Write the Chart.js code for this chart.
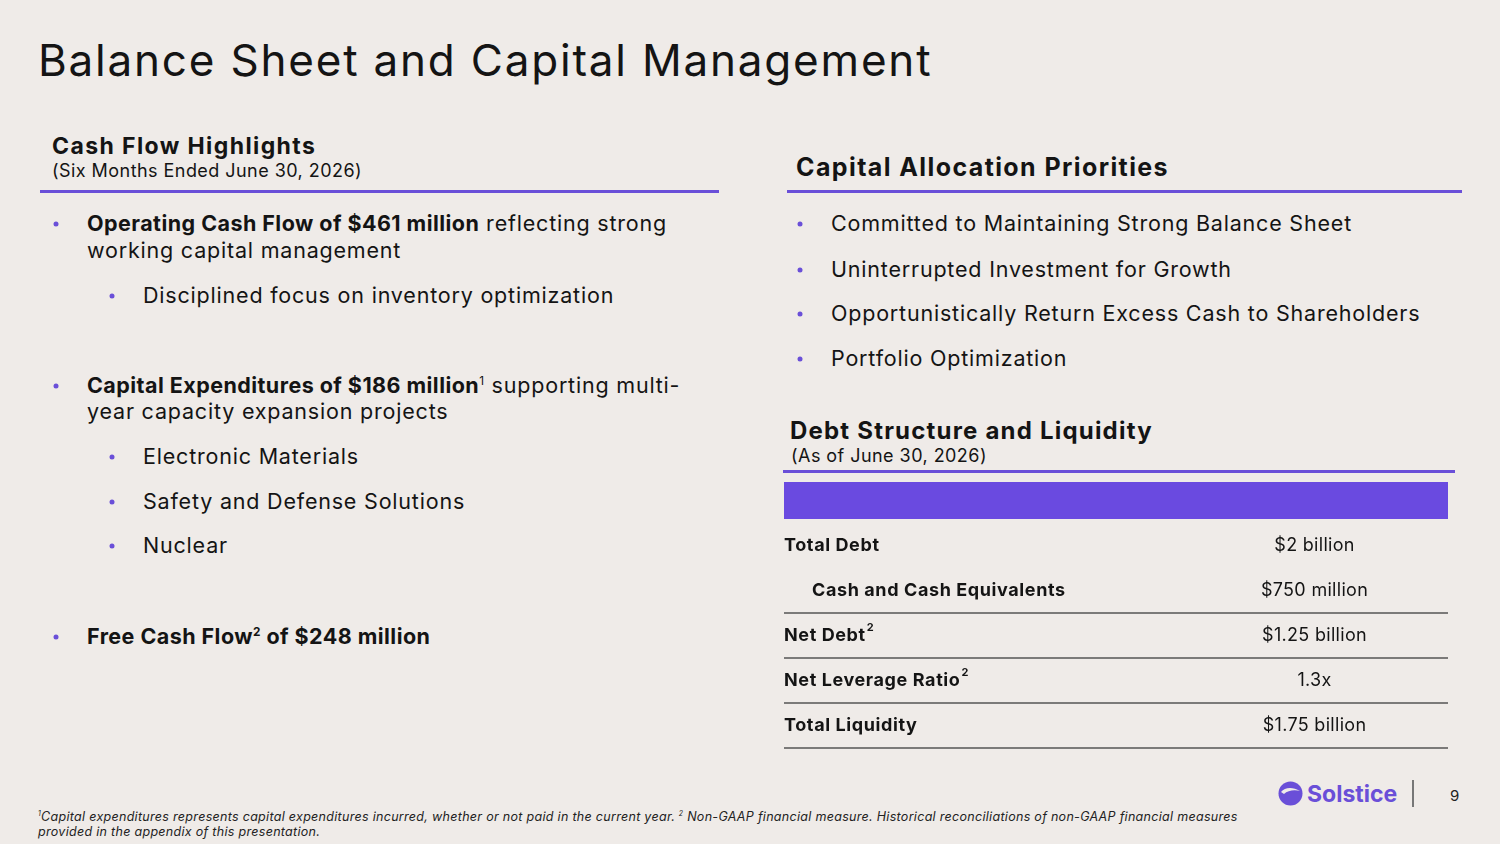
<!DOCTYPE html>
<html>
<head>
<meta charset="utf-8">
<script src="https://cdn.jsdelivr.net/npm/chart.js@4"></script>
<style>
  body { margin: 0; background: #efebe8; }
  #slide { position: relative; width: 1500px; height: 844px; background: #efebe8; overflow: hidden; font-family: 'Inter', sans-serif; color: #141414; }
  .t { position: absolute; white-space: nowrap; line-height: 1; transform: translateY(-50%); }
  .title { left: 38px; top: 60px; font-size: 44px; font-weight: 400; letter-spacing: 1.8px; }
  .h2 { font-size: 23px; font-weight: 700; letter-spacing: 1.4px; }
  .sub { font-size: 18px; font-weight: 400; letter-spacing: 0.45px; }
  .b { font-size: 21.5px; letter-spacing: 0.8px; }
  .b strong { font-weight: 700; letter-spacing: 0.45px; }
  .dot { position: absolute; width: 5px; height: 5px; border-radius: 50%; background: #6a4fd8; transform: translate(-50%, -50%); }
  .rule { position: absolute; height: 3px; background: #6a4fd8; }
  sup { font-size: 0.55em; vertical-align: 0.7em; line-height: 0; }
  .foot { left: 38px; font-size: 12.5px; font-style: italic; color: #222; letter-spacing: 0.3px; }
  #tableBox { position: absolute; left: 784px; top: 478px; width: 664px; height: 273px; }
</style>
</head>
<body>
<div id="slide">
  <div class="t title">Balance Sheet and Capital Management</div>

  <!-- left column -->
  <div class="t h2" style="left:52px; top:146px;">Cash Flow Highlights</div>
  <div class="t sub" style="left:52px; top:171px;">(Six Months Ended June 30, 2026)</div>
  <div class="rule" style="left:40px; top:190px; width:679px;"></div>

  <div class="dot" style="left:56px; top:224px;"></div>
  <div class="t b" style="left:87px; top:224px;"><strong>Operating Cash Flow of $461 million</strong> reflecting strong</div>
  <div class="t b" style="left:87px; top:251px;">working capital management</div>
  <div class="dot" style="left:112px; top:296px;"></div>
  <div class="t b" style="left:143px; top:296px;">Disciplined focus on inventory optimization</div>

  <div class="dot" style="left:56px; top:386px;"></div>
  <div class="t b" style="left:87px; top:386px;"><strong>Capital Expenditures of $186 million</strong><sup>1</sup> supporting multi-</div>
  <div class="t b" style="left:87px; top:412px;">year capacity expansion projects</div>
  <div class="dot" style="left:112px; top:457px;"></div>
  <div class="t b" style="left:143px; top:457px;">Electronic Materials</div>
  <div class="dot" style="left:112px; top:502px;"></div>
  <div class="t b" style="left:143px; top:502px;">Safety and Defense Solutions</div>
  <div class="dot" style="left:112px; top:546px;"></div>
  <div class="t b" style="left:143px; top:546px;">Nuclear</div>

  <div class="dot" style="left:56px; top:637px;"></div>
  <div class="t b" style="left:87px; top:637px;"><strong>Free Cash Flow<sup>2</sup> of $248 million</strong></div>

  <!-- right column -->
  <div class="t h2" style="left:796px; top:167px; font-size:25px;">Capital Allocation Priorities</div>
  <div class="rule" style="left:787px; top:190px; width:675px;"></div>
  <div class="dot" style="left:800px; top:224px;"></div>
  <div class="t b" style="left:831px; top:224px;">Committed to Maintaining Strong Balance Sheet</div>
  <div class="dot" style="left:800px; top:270px;"></div>
  <div class="t b" style="left:831px; top:270px;">Uninterrupted Investment for Growth</div>
  <div class="dot" style="left:800px; top:314px;"></div>
  <div class="t b" style="left:831px; top:314px;">Opportunistically Return Excess Cash to Shareholders</div>
  <div class="dot" style="left:800px; top:359px;"></div>
  <div class="t b" style="left:831px; top:359px;">Portfolio Optimization</div>

  <div class="t h2" style="left:790px; top:431px; font-size:24px; letter-spacing:1.2px;">Debt Structure and Liquidity</div>
  <div class="t sub" style="left:791px; top:456px;">(As of June 30, 2026)</div>
  <div class="rule" style="left:783px; top:470px; width:672px;"></div>

  <div id="tableBox"><canvas id="debtTable"></canvas></div>

  <!-- footer -->
  <div class="t foot" style="top:817px;"><sup>1</sup>Capital expenditures represents capital expenditures incurred, whether or not paid in the current year. <sup>2</sup> Non-GAAP financial measure. Historical reconciliations of non-GAAP financial measures</div>
  <div class="t foot" style="top:832px;">provided in the appendix of this presentation.</div>

  <svg style="position:absolute; left:1278px; top:780px;" width="25" height="27" viewBox="0 0 25 27">
    <circle cx="12.5" cy="13.5" r="12" fill="#6a4fd8"/>
    <path d="M3 12 C7 7 15 7 22 11 C17 9.5 10 10 6 14 Z" fill="#efebe8"/>
  </svg>
  <div class="t" style="left:1307px; top:794px; font-size:23px; font-weight:700; color:#6a4fd8;">Solstice</div>
  <div style="position:absolute; left:1412px; top:780px; width:2px; height:27px; background:#777;"></div>
  <div class="t" style="left:1450px; top:795px; font-size:15px; color:#222;">9</div>
</div>

<script>
// table rows of the debt structure (first row is the purple header band)
const rowLabels = ['', 'Total Debt', 'Cash and Cash Equivalents', 'Net Debt', 'Net Leverage Ratio', 'Total Liquidity'];
const rowValues = ['', '$2 billion', '$750 million', '$1.25 billion', '1.3x', '$1.75 billion'];
const rowNotes = ['', '', '', '2', '2', ''];
const headerBand = [1, null, null, null, null, null];
const subRows = ['Cash and Cash Equivalents'];
const ruledRows = ['Cash and Cash Equivalents', 'Net Debt', 'Net Leverage Ratio', 'Total Liquidity'];

const purple = '#6a4ae0';

const tablePlugin = {
    id: 'tableText',
    afterDatasetsDraw(chart) {
        const ctx = chart.ctx;
        const y = chart.scales.y;
        const area = chart.chartArea;
        const step = y.getPixelForValue(1) - y.getPixelForValue(0);
        const valueX = area.left + (area.right - area.left) * 0.799;

        ctx.save();
        rowLabels.forEach((label, i) => {
            if (!label) return;
            const py = y.getPixelForValue(i);
            const x = area.left + (subRows.includes(label) ? 28 : 0);

            ctx.fillStyle = '#141414';
            ctx.textBaseline = 'middle';
            ctx.textAlign = 'left';
            ctx.font = '700 18px Inter';
            ctx.letterSpacing = '0.6px';
            ctx.fillText(label, x, py);
            if (rowNotes[i]) {
                const w = ctx.measureText(label).width;
                ctx.font = '700 11px Inter';
                ctx.fillText(rowNotes[i], x + w + 1, py - 8);
            }

            ctx.textAlign = 'center';
            ctx.font = '400 18px Inter';
            ctx.letterSpacing = '0.3px';
            ctx.fillText(rowValues[i], valueX, py);

            if (ruledRows.includes(label)) {
                const ly = py + step / 2;
                ctx.strokeStyle = '#555';
                ctx.lineWidth = 1.5;
                ctx.beginPath();
                ctx.moveTo(area.left, ly);
                ctx.lineTo(area.right, ly);
                ctx.stroke();
            }
        });
        ctx.restore();
    }
};

new Chart(document.getElementById('debtTable').getContext('2d'), {
    type: 'bar',
    data: {
        labels: rowLabels,
        datasets: [{
            data: headerBand,
            backgroundColor: purple,
            barPercentage: 0.82,
            categoryPercentage: 1
        }]
    },
    options: {
        indexAxis: 'y',
        responsive: true,
        maintainAspectRatio: false,
        animation: false,
        layout: { padding: { top: 0, bottom: 3, left: 0, right: 0 } },
        scales: {
            x: { display: false, min: 0, max: 1 },
            y: { display: false }
        },
        plugins: {
            legend: { display: false },
            tooltip: { enabled: false }
        }
    },
    plugins: [tablePlugin]
});
</script>
</body>
</html>
